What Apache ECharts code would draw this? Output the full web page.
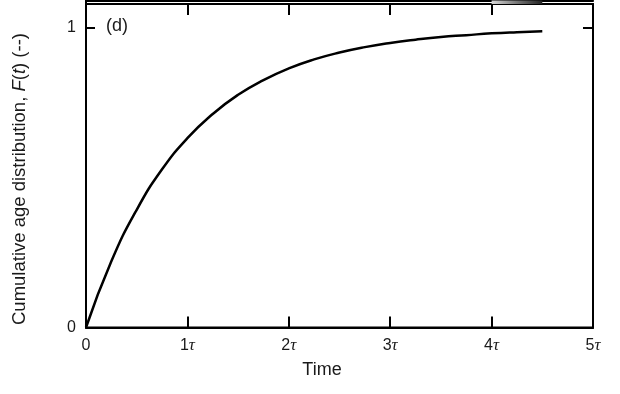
<!DOCTYPE html>
<html><head><meta charset="utf-8">
<script src="https://cdn.jsdelivr.net/npm/echarts@6/dist/echarts.min.js"></script>
<style>html,body{margin:0;padding:0;background:#fff}#c{width:620px;height:394px}</style>
</head><body><div id="c"></div>
<script>
// Panel (d): cumulative age distribution F(t), t in units of tau
const timeTau = [0, 0.25, 0.5, 0.75, 1.0, 1.25, 1.5, 1.75, 2.0, 2.25, 2.5, 2.75, 3.0, 3.25, 3.5, 3.75, 4.0, 4.25, 4.5];
const cumF    = [0, 0.221, 0.393, 0.528, 0.632, 0.713, 0.777, 0.826, 0.865, 0.895, 0.918, 0.936, 0.95, 0.961, 0.97, 0.976, 0.982, 0.986, 0.989];
// Upper (cut-off) panel: only the tail at its bottom edge is visible
const upperT = [4.0, 4.1, 4.2, 4.3, 4.4, 4.5];
const upperV = [0, 0, 0, 0, 0, 0];
const xTicks = [0, 1, 2, 3, 4, 5];
const yTicks = [0, 1];

const FONT = 'Liberation Sans, Arial, Helvetica, sans-serif';
const SERIF = 'Liberation Serif, DejaVu Serif, serif';
const TXT = '#1a1a1a';
const chart = echarts.init(document.getElementById('c'), null, {renderer: 'canvas'});
const lineStyle = {color: '#000', width: 2};
const tickStyle = {color: '#000', width: 2};

chart.setOption({
  animation: false,
  backgroundColor: '#fff',
  grid: [
    {left: 86, right: 27, top: 4, height: 323.5, show: true, borderColor: '#000', borderWidth: 2, backgroundColor: 'transparent', outerBoundsMode: 'none', containLabel: false},
    {left: 86, right: 27, top: -60, height: 64, show: false, outerBoundsMode: 'none', containLabel: false}
  ],
  xAxis: [
    {type: 'value', gridIndex: 0, position: 'bottom', min: 0, max: 5, interval: 1,
     axisLine: {show: true, onZero: false, lineStyle: lineStyle},
     axisTick: {show: true, inside: true, length: 11, lineStyle: tickStyle},
     splitLine: {show: false},
     axisLabel: {margin: 10, color: TXT, fontFamily: FONT, fontSize: 16,
       formatter: v => v === 0 ? '0' : '{n|' + v + '}{t|τ}',
       rich: {n: {color: TXT, fontFamily: FONT, fontSize: 16}, t: {color: TXT, fontFamily: SERIF, fontStyle: 'italic', fontSize: 17}}}},
    {type: 'value', gridIndex: 0, position: 'top', min: 0, max: 5, interval: 1,
     axisLine: {show: true, onZero: false, lineStyle: lineStyle},
     axisTick: {show: true, inside: true, length: 11, lineStyle: tickStyle},
     splitLine: {show: false}, axisLabel: {show: false}},
    {type: 'value', gridIndex: 1, position: 'bottom', min: 0, max: 5, interval: 1,
     axisLine: {show: true, onZero: true, lineStyle: lineStyle},
     axisTick: {show: true, inside: true, length: 11, lineStyle: tickStyle},
     splitLine: {show: false}, axisLabel: {show: false}}
  ],
  yAxis: [
    {type: 'value', gridIndex: 0, position: 'left', min: 0, max: 1.08, interval: 1,
     axisLine: {show: true, onZero: false, lineStyle: lineStyle},
     axisTick: {show: true, inside: true, length: 9, lineStyle: tickStyle, customValues: yTicks},
     splitLine: {show: false},
     axisLabel: {margin: 10, color: TXT, fontFamily: FONT, fontSize: 16, customValues: yTicks, formatter: v => String(v)}},
    {type: 'value', gridIndex: 0, position: 'right', min: 0, max: 1.08, interval: 1,
     axisLine: {show: true, onZero: false, lineStyle: lineStyle},
     axisTick: {show: true, inside: true, length: 10, lineStyle: tickStyle, customValues: yTicks},
     splitLine: {show: false}, axisLabel: {show: false}},
    {type: 'value', gridIndex: 1, position: 'left', min: -0.06, max: 1,
     axisLine: {show: true, onZero: false, lineStyle: lineStyle},
     axisTick: {show: false}, splitLine: {show: false}, axisLabel: {show: false}}
  ],
  series: [
    {type: 'line', xAxisIndex: 0, yAxisIndex: 0, data: timeTau.map((t, i) => [t, cumF[i]]),
     smooth: true, showSymbol: false, lineStyle: {color: '#000', width: 2.5}, z: 5},
    {type: 'line', xAxisIndex: 2, yAxisIndex: 2, data: upperT.map((t, i) => [t, upperV[i]]),
     showSymbol: false, lineStyle: {width: 0}, z: 1,
     areaStyle: {origin: 'start', opacity: 1, color: new echarts.graphic.LinearGradient(0, 0, 1, 0, [{offset: 0, color: '#d8d8d8'}, {offset: 0.5, color: '#777'}, {offset: 1, color: '#222'}])}}
  ],
  graphic: [
    {type: 'text', left: 106, top: 17, style: {text: '(d)', fill: TXT, font: '18px ' + FONT}},
    {type: 'text', x: 322, y: 370, style: {text: 'Time', fill: TXT, font: '18px ' + FONT, align: 'center', verticalAlign: 'middle'}},
    {type: 'text', x: 72, y: -4, style: {text: '0', fill: TXT, font: '16px ' + FONT, align: 'center', verticalAlign: 'middle'}},
    {type: 'text', x: 20, y: 179, rotation: Math.PI / 2,
     style: {text: '{a|Cumulative age distribution, }{i|F}{a|(}{i|t}{a|) (--)}', align: 'center', verticalAlign: 'middle',
       rich: {a: {fill: TXT, fontFamily: FONT, fontSize: 18.5}, i: {fill: TXT, fontFamily: FONT, fontStyle: 'italic', fontSize: 18.5}}}}
  ]
});
</script>
</body></html>
